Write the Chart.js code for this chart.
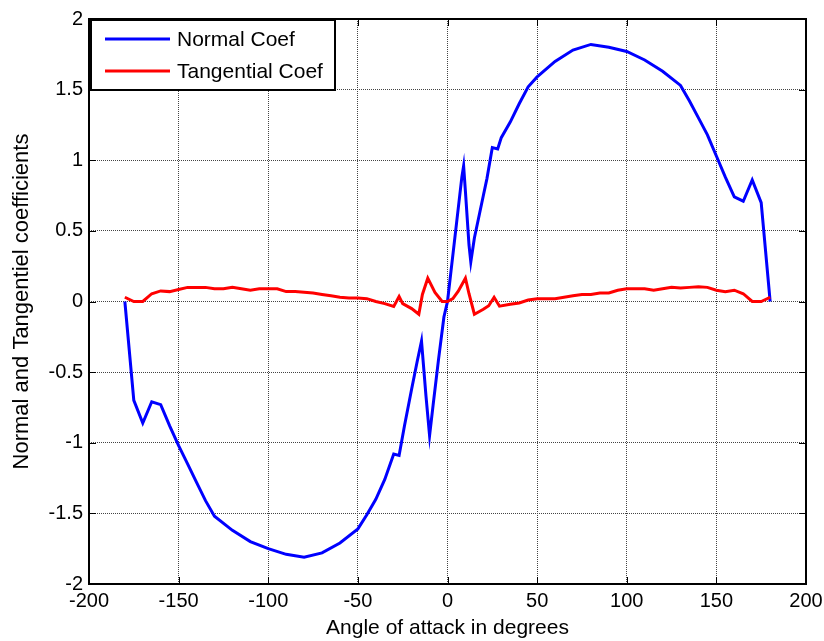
<!DOCTYPE html>
<html>
<head>
<meta charset="utf-8">
<script src="https://cdn.jsdelivr.net/npm/chart.js@4.4.1/dist/chart.umd.min.js"></script>
<style>
    body { margin: 0; background: #fff; }
    canvas { display: block; }
</style>
</head>
<body>
<canvas id="main-chart" width="824" height="641"></canvas>
<script>
// angle of attack (deg) and coefficients
const normalAngles = [-180, -175, -170, -165, -160, -155, -150, -145, -140, -135, -130,
    -120, -110, -100, -90, -80, -70, -60, -50, -45, -40, -35, -30, -27, -24, -20, -17,
    -14.5, -12, -10, -8, -5, -2, 0, 2, 5, 8, 9, 10, 12, 13, 15, 18, 20, 22, 25, 28, 30,
    35, 40, 45, 50, 60, 70, 80, 90, 100, 110, 120, 130, 135, 140, 145, 150, 155, 160,
    165, 170, 175, 180];
const normalCoef = [0, -0.70, -0.86, -0.71, -0.73, -0.88, -1.02, -1.15, -1.28, -1.41, -1.52,
    -1.62, -1.70, -1.75, -1.79, -1.81, -1.78, -1.71, -1.61, -1.51, -1.40, -1.26, -1.08, -1.09, -0.88, -0.62, -0.43,
    -0.28, -0.67, -0.95, -0.73, -0.41, -0.11, 0, 0.22, 0.55, 0.88, 0.96, 0.78, 0.40, 0.28, 0.45, 0.63, 0.75, 0.87, 1.09, 1.08, 1.16,
    1.27, 1.40, 1.52, 1.59, 1.70, 1.78, 1.82, 1.80, 1.77, 1.71, 1.63, 1.53, 1.42, 1.30, 1.18, 1.03, 0.88, 0.74,
    0.71, 0.86, 0.70, 0];

const tangAngles = [-180, -175, -170, -165, -160, -155, -150, -145, -140, -135, -130, -125,
    -120, -115, -110, -105, -100, -95, -90, -85, -80, -75, -70, -65, -60, -55, -50, -45,
    -40, -35, -30, -27, -25, -20, -16, -14, -11, -7, -3, 0, 3, 6, 10, 12, 15, 20, 23, 26,
    29, 35, 40, 45, 50, 55, 60, 65, 70, 75, 80, 85, 90, 95, 100, 105, 110, 115, 120, 125,
    130, 135, 140, 145, 150, 155, 160, 165, 170, 175, 180];
const tangCoef = [0.03, 0.00, 0.00, 0.055, 0.075, 0.07, 0.085, 0.10, 0.10, 0.10, 0.09, 0.09,
    0.10, 0.09, 0.08, 0.09, 0.09, 0.09, 0.07, 0.07, 0.065, 0.06, 0.05, 0.04, 0.03, 0.025, 0.025, 0.02,
    0.00, -0.015, -0.035, 0.035, -0.015, -0.05, -0.09, 0.05, 0.165, 0.065, 0.0, 0.0, 0.02, 0.073, 0.165, 0.055, -0.09, -0.055, -0.03, 0.03,
    -0.033, -0.02, -0.01, 0.01, 0.02, 0.02, 0.02, 0.03, 0.04, 0.05, 0.05, 0.06, 0.06, 0.08, 0.09, 0.09, 0.09, 0.08, 0.09, 0.10,
    0.095, 0.10, 0.105, 0.10, 0.08, 0.07, 0.08, 0.055, 0.00, 0.00, 0.03];

const xTickValues = [-200, -150, -100, -50, 0, 50, 100, 150, 200];
const yTickValues = [-2, -1.5, -1, -0.5, 0, 0.5, 1, 1.5, 2];

const seriesLabels = ['Normal Coef', 'Tangential Coef'];
const seriesColors = ['#0000ff', '#ff0000'];

const FONT = "'Liberation Sans', Arial, sans-serif";

const toPoints = (xs, ys) => xs.map((x, i) => ({ x: x, y: ys[i] }));

// axes box + small inward ticks, matlab style
const frame_plugin = {
    id: 'frame',
    afterDatasetsDraw(chart) {
        const { ctx, chartArea: a, scales: { x, y } } = chart;
        ctx.save();
        ctx.strokeStyle = '#000';
        ctx.lineWidth = 1;
        ctx.beginPath();
        x.ticks.forEach(t => {
            const px = Math.round(x.getPixelForValue(t.value)) + 0.5;
            ctx.moveTo(px, a.bottom); ctx.lineTo(px, a.bottom - 7);
            ctx.moveTo(px, a.top); ctx.lineTo(px, a.top + 7);
        });
        y.ticks.forEach(t => {
            const py = Math.round(y.getPixelForValue(t.value)) + 0.5;
            ctx.moveTo(a.left, py); ctx.lineTo(a.left + 7, py);
            ctx.moveTo(a.right, py); ctx.lineTo(a.right - 7, py);
        });
        ctx.stroke();
        ctx.lineWidth = 2;
        ctx.strokeRect(a.left, a.top, a.right - a.left, a.bottom - a.top);
        ctx.restore();
    }
};

// legend box in the top left corner of the axes
const legend_plugin = {
    id: 'inlineLegend',
    afterDraw(chart) {
        const { ctx, chartArea: a } = chart;
        const bx = a.left + 2, by = a.top + 1, bw = 244, bh = 70;
        ctx.save();
        ctx.fillStyle = '#fff';
        ctx.fillRect(bx, by, bw, bh);
        ctx.strokeStyle = '#000';
        ctx.lineWidth = 2;
        ctx.strokeRect(bx, by, bw, bh);
        ctx.font = '21px ' + FONT;
        ctx.textBaseline = 'middle';
        chart.data.datasets.forEach((ds, i) => {
            const ly = by + 19 + i * 32;
            ctx.strokeStyle = ds.borderColor;
            ctx.lineWidth = 3;
            ctx.beginPath();
            ctx.moveTo(bx + 14, ly);
            ctx.lineTo(bx + 79, ly);
            ctx.stroke();
            ctx.fillStyle = '#000';
            ctx.fillText(ds.label, bx + 86, ly + 1);
        });
        ctx.restore();
    }
};

const data = {
    datasets: [{
        label: seriesLabels[0],
        data: toPoints(normalAngles, normalCoef),
        borderColor: seriesColors[0],
        borderWidth: 3,
        order: 1,
    }, {
        label: seriesLabels[1],
        data: toPoints(tangAngles, tangCoef),
        borderColor: seriesColors[1],
        borderWidth: 3,
        order: 0,
    }]
};

const config = {
    type: 'line',
    data: data,
    options: {
        responsive: false,
        animation: false,
        devicePixelRatio: 1,
        layout: {
            padding: { left: 0, top: 19, right: 18, bottom: 0 }
        },
        elements: {
            point: { radius: 0 },
            line: { tension: 0, fill: false }
        },
        plugins: {
            legend: { display: false },
            tooltip: { enabled: false }
        },
        scales: {
            x: {
                type: 'linear',
                min: -200,
                max: 200,
                afterBuildTicks: s => { s.ticks = xTickValues.map(v => ({ value: v })); },
                afterFit: s => { s.height = 57; s.paddingLeft = 0; s.paddingRight = 0; },
                ticks: {
                    color: '#000',
                    font: { family: FONT, size: 20 },
                    padding: 5,
                    maxRotation: 0,
                    callback: v => String(v),
                },
                grid: { color: '#444', drawTicks: false, lineWidth: 1 },
                border: { display: false, dash: [1, 1] },
                title: {
                    display: true,
                    text: 'Angle of attack in degrees',
                    color: '#000',
                    font: { family: FONT, size: 21 },
                    padding: { top: 0, bottom: 0 },
                }
            },
            y: {
                type: 'linear',
                min: -2,
                max: 2,
                afterBuildTicks: s => { s.ticks = yTickValues.map(v => ({ value: v })); },
                afterFit: s => { s.width = 89; s.paddingTop = 0; s.paddingBottom = 0; },
                ticks: {
                    color: '#000',
                    font: { family: FONT, size: 20 },
                    padding: 6,
                    callback: v => String(v),
                },
                grid: { color: '#444', drawTicks: false, lineWidth: 1 },
                border: { display: false, dash: [1, 1] },
                title: {
                    display: true,
                    text: 'Normal and Tangentiel coefficients',
                    color: '#000',
                    font: { family: FONT, size: 22 },
                    padding: { top: 9, bottom: 0 },
                }
            }
        }
    },
    plugins: [frame_plugin, legend_plugin]
};

const myChart = new Chart(
    document.getElementById('main-chart'),
    config
);
</script>
</body>
</html>
